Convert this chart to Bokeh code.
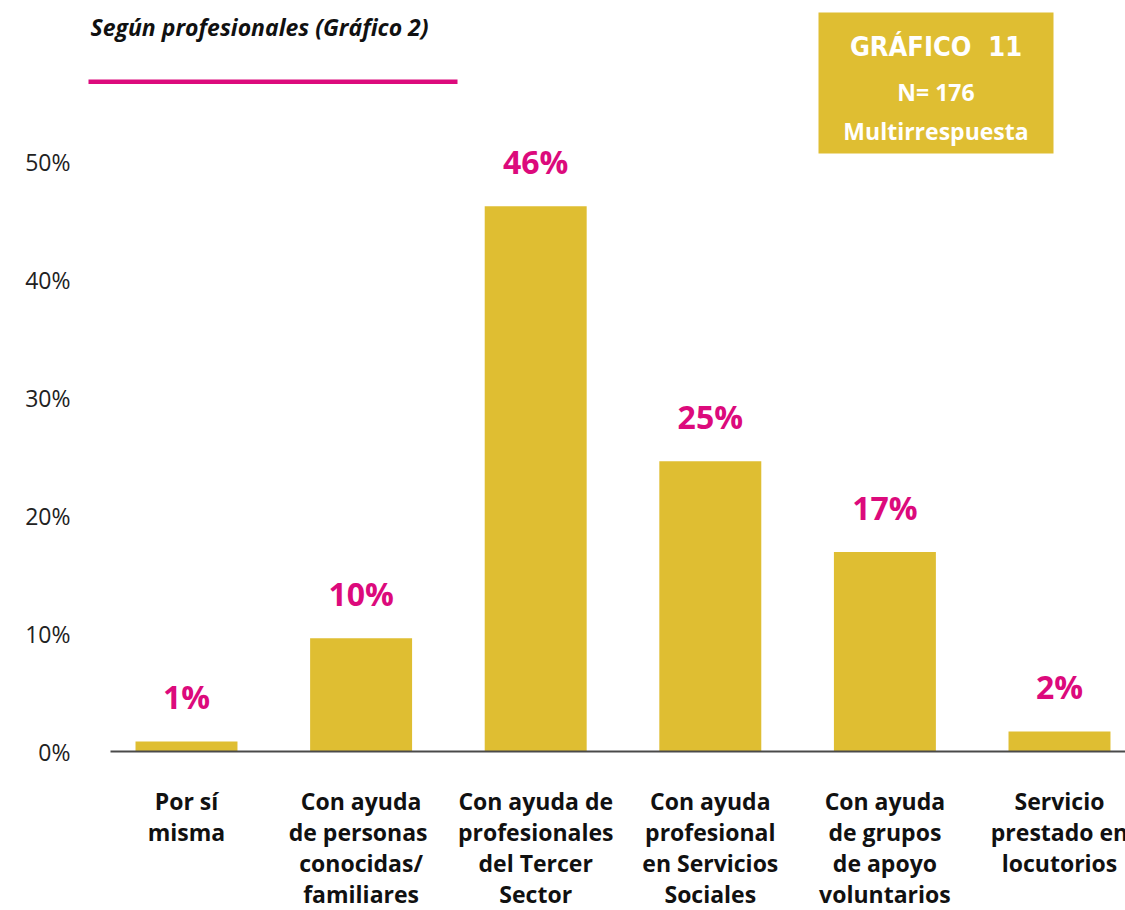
from bokeh.plotting import figure
from bokeh.models import ColumnDataSource, Range1d, FixedTicker, Label, BoxAnnotation
from bokeh.core.properties import value
from bokeh.embed import file_html
from bokeh.resources import INLINE

# ---- data ----
categories = [
    "Por sí\nmisma",
    "Con ayuda\nde  personas\nconocidas/\nfamiliares",
    "Con ayuda de\nprofesionales\ndel Tercer\nSector",
    "Con ayuda\nprofesional\nen Servicios\nSociales",
    "Con ayuda\nde grupos\nde apoyo\nvoluntarios",
    "Servicio\nprestado en\nlocutorios",
]
values = [0.85, 9.6, 46.2, 24.6, 16.9, 1.7]
value_labels = ["1%", "10%", "46%", "25%", "17%", "2%"]
y_ticks = [0, 10, 20, 30, 40, 50]
y_tick_labels = ["0%", "10%", "20%", "30%", "40%", "50%"]

title_text = "Según profesionales (Gráfico 2)"
box_lines = ["GRÁFICO\u00a0 11", "N= 176", "Multirrespuesta"]

# ---- style ----
YELLOW = "#DFBE32"
PINK = "#DC0A7C"
FONT = "Open Sans"

W, H = 1125, 910
LEFT = 80                       # frame left edge (px)
X0_PX, STEP_PX = 186.0, 174.6   # centre of first category, spacing
Y0_PX, UNIT_PX = 751.0, 11.8    # y of 0 %, pixels per 1 %

def dx(px):
    return (px - X0_PX) / STEP_PX

def dy(py):
    return (Y0_PX - py) / UNIT_PX

p = figure(width=W, height=H, output_backend="svg", toolbar_location=None,
           x_range=Range1d(dx(LEFT), dx(W)), y_range=Range1d(dy(H), dy(0)),
           x_axis_location=None, min_border_left=LEFT, min_border_right=0,
           min_border_top=0, min_border_bottom=0)
p.outline_line_color = None
p.xgrid.visible = False
p.ygrid.visible = False
p.background_fill_color = "white"
p.border_fill_color = "white"

yax = p.yaxis[0]
yax.ticker = FixedTicker(ticks=y_ticks)
yax.major_label_overrides = {t: l for t, l in zip(y_ticks, y_tick_labels)}
yax.axis_line_color = None
yax.major_tick_line_color = None
yax.minor_tick_line_color = None
yax.major_tick_in = 0
yax.major_tick_out = 0
yax.major_label_standoff = 10
yax.major_label_text_font = FONT
yax.major_label_text_font_size = "23px"
yax.major_label_text_color = "#222222"

xs = list(range(len(categories)))
src = ColumnDataSource(dict(x=xs, top=values, lab=value_labels))

p.vbar(x="x", top="top", bottom=0, width=0.584, source=src,
       fill_color=YELLOW, line_color=None)

# baseline (x axis line) starting at the category area
p.add_layout(BoxAnnotation(left=dx(110), bottom=0 - 1.0 / UNIT_PX, top=0 + 1.0 / UNIT_PX,
                           fill_color="#4a4a4a", fill_alpha=1, line_color=None))

p.text(x="x", y="top", text="lab", source=src, y_offset=-45,
       text_align="center", text_baseline="middle",
       text_font=value(FONT), text_font_style="bold",
       text_font_size="32px", text_color=PINK)

# category labels, one row per line
lx, ly, lt, lo = [], [], [], []
for i, c in enumerate(categories):
    for k, line in enumerate(c.split("\n")):
        lx.append(i)
        ly.append(0)
        lt.append(line)
        lo.append(49 + 31 * k)
lsrc = ColumnDataSource(dict(x=lx, y=ly, t=lt, o=lo))
p.text(x="x", y="y", text="t", y_offset="o", source=lsrc,
       text_align="center", text_baseline="middle",
       text_font=value(FONT), text_font_style="bold",
       text_font_size="23px", text_color="#111111")

# header
p.add_layout(Label(x=dx(90), y=dy(26), text=title_text,
                   text_font=FONT, text_font_style="bold italic",
                   text_font_size="23px", text_color="#111111",
                   text_baseline="middle", text_align="left"))
p.add_layout(BoxAnnotation(left=dx(88), right=dx(457), bottom=dy(83.5), top=dy(79),
                           fill_color=PINK, fill_alpha=1, line_color=None))
p.add_layout(BoxAnnotation(left=dx(818), right=dx(1053), bottom=dy(153), top=dy(12),
                           fill_color=YELLOW, fill_alpha=1, line_color=None))
cx = dx(935.5)
p.add_layout(Label(x=cx, y=dy(46), text=box_lines[0],
                   text_font="'DejaVu Sans Condensed', 'DejaVu Sans'",
                   text_font_style="bold", text_font_size="27px", text_color="white",
                   text_align="center", text_baseline="middle"))
p.add_layout(Label(x=cx, y=dy(91), text=box_lines[1], text_font=FONT,
                   text_font_style="bold", text_font_size="23px", text_color="white",
                   text_align="center", text_baseline="middle"))
p.add_layout(Label(x=cx, y=dy(130), text=box_lines[2], text_font=FONT,
                   text_font_style="bold", text_font_size="23px", text_color="white",
                   text_align="center", text_baseline="middle"))

open("out.html", "w").write(file_html(p, INLINE))
